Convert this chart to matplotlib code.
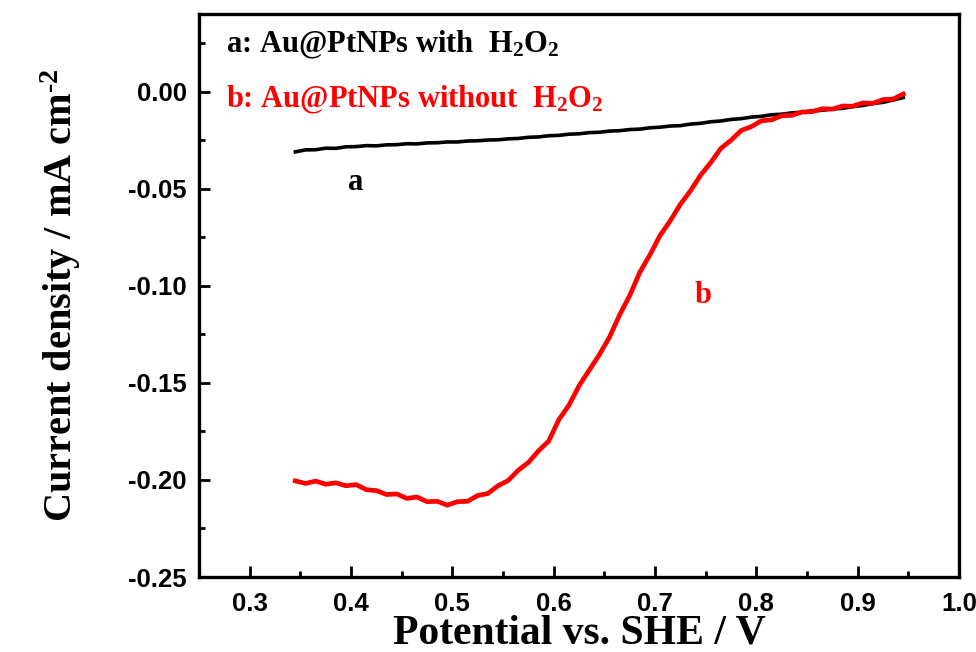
import numpy as np
import matplotlib
matplotlib.use("Agg")
import matplotlib.pyplot as plt
from matplotlib.ticker import MultipleLocator

# potential (V vs SHE) sampled every 10 mV
potential = np.round(np.arange(0.345, 0.9451, 0.01), 3)

# a: Au@PtNPs with H2O2 (black)
j_a = [-0.0310, -0.0300, -0.0299, -0.0291, -0.0292, -0.0284, -0.0283, -0.0278, -0.0279, -0.0274,
       -0.0273, -0.0268, -0.0269, -0.0264, -0.0263, -0.0259, -0.0259, -0.0254, -0.0253, -0.0249,
       -0.0248, -0.0243, -0.0241, -0.0235, -0.0233, -0.0227, -0.0225, -0.0219, -0.0217, -0.0211,
       -0.0209, -0.0203, -0.0201, -0.0195, -0.0193, -0.0186, -0.0183, -0.0177, -0.0175, -0.0167,
       -0.0163, -0.0155, -0.0151, -0.0143, -0.0139, -0.0131, -0.0127, -0.0119, -0.0116, -0.0109,
       -0.0106, -0.0099, -0.0096, -0.0089, -0.0086, -0.0077, -0.0071, -0.0061, -0.0055, -0.0043,
       -0.0030]

# b: Au@PtNPs without H2O2 (red)
j_b = [-0.2005, -0.2018, -0.2006, -0.2022, -0.2015, -0.2030, -0.2024, -0.2050, -0.2055, -0.2075,
       -0.2072, -0.2095, -0.2088, -0.2112, -0.2110, -0.2130, -0.2112, -0.2110, -0.2080, -0.2070,
       -0.2030, -0.2003, -0.1950, -0.1910, -0.1850, -0.1800, -0.1690, -0.1615, -0.1515, -0.1435,
       -0.1355, -0.1265, -0.1150, -0.1050, -0.0930, -0.0840, -0.0740, -0.0665, -0.0580, -0.0510,
       -0.0430, -0.0365, -0.0292, -0.0250, -0.0200, -0.0180, -0.0150, -0.0145, -0.0124, -0.0122,
       -0.0105, -0.0103, -0.0088, -0.0090, -0.0074, -0.0075, -0.0058, -0.0060, -0.0041, -0.0038,
       -0.0012]

plt.rcParams['mathtext.fontset'] = 'custom'
plt.rcParams['mathtext.rm'] = 'Liberation Serif:bold'
plt.rcParams['mathtext.it'] = 'Liberation Serif:bold'
plt.rcParams['mathtext.bf'] = 'Liberation Serif:bold'

fig = plt.figure(figsize=(9.76, 6.52), dpi=100)
ax = fig.add_axes([0.204, 0.115, 0.7786, 0.8635])

ax.plot(potential, j_a, color='black', lw=2.6)
ax.plot(potential, j_b, color='red', lw=3.4)

ax.set_xlim(0.25, 1.0)
ax.set_ylim(-0.25, 0.04)
ax.xaxis.set_major_locator(MultipleLocator(0.1))
ax.xaxis.set_minor_locator(MultipleLocator(0.05))
ax.yaxis.set_major_locator(MultipleLocator(0.05))
ax.yaxis.set_minor_locator(MultipleLocator(0.025))
ax.tick_params(which='both', direction='in', top=False, right=False, width=2)
ax.tick_params(which='major', length=8)
ax.tick_params(which='minor', length=4)
ax.tick_params(axis='x', which='major', pad=11)
ax.tick_params(axis='y', which='major', pad=9)
for s in ax.spines.values():
    s.set_linewidth(2.4)

tickfont = dict(family='Liberation Sans', weight='bold', size=18.5)
ax.set_xticklabels([f"{v:.1f}" for v in ax.get_xticks()], fontdict=tickfont)
ax.set_yticklabels([f"{v:.2f}" for v in ax.get_yticks()], fontdict=tickfont)

ax.set_xlabel('Potential vs. SHE / V', family='Liberation Serif', weight='bold', size=30, labelpad=-1)
ax.set_ylabel(r'Current density / mA cm$^{\text{-2}}$', family='Liberation Serif', weight='bold', size=29, labelpad=32)

legfont = dict(family='Liberation Serif', weight='bold', size=22)
ax.text(0.035, 0.945, r'a: Au@PtNPs with  H$_2$O$_2$', transform=ax.transAxes, color='black', va='center', **legfont)
ax.text(0.035, 0.847, r'b: Au@PtNPs without  H$_2$O$_2$', transform=ax.transAxes, color='red', va='center', **legfont)
ax.text(0.405, -0.047, 'a', color='black', ha='center', va='center', **legfont)
ax.text(0.747, -0.105, 'b', color='red', ha='center', va='center', **legfont)

fig.savefig('out.png', dpi=100)
